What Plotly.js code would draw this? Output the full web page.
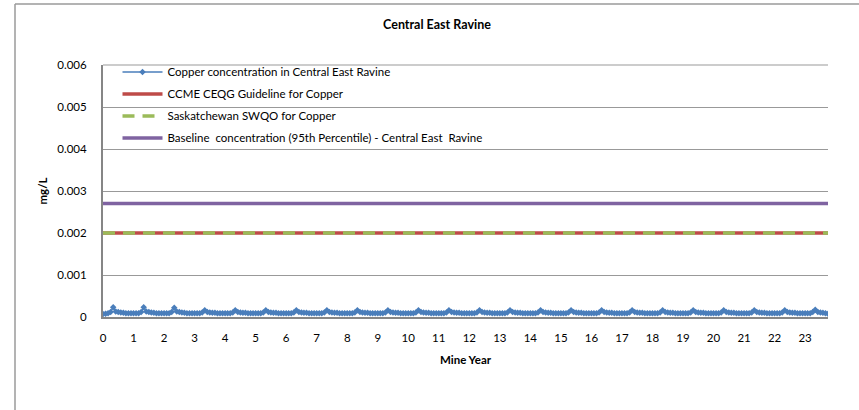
<!DOCTYPE html>
<html>
<head>
<meta charset="utf-8">
<script src="https://cdn.plot.ly/plotly-3.0.1.min.js"></script>
<style>
  html, body { margin: 0; padding: 0; background: #ffffff; }
  #chart { width: 859px; height: 410px; }
</style>
</head>
<body>
<div id="chart"></div>
<script>
// ---- data (mg/L), monthly values, one row per mine year ----
const copperConc = [
  0.00007,0.00008,0.00009,0.00012,0.00023,0.00013,0.00012,0.00011,0.00010,0.00009,0.00009,0.00009,
  0.00009,0.00009,0.00009,0.00012,0.00023,0.00013,0.00012,0.00011,0.00010,0.00009,0.00009,0.00009,
  0.00009,0.00009,0.00009,0.00012,0.00022,0.00013,0.00012,0.00011,0.00010,0.00009,0.00009,0.00009,
  0.00009,0.00009,0.00009,0.00011,0.00016,0.00012,0.00011,0.00010,0.00010,0.00009,0.00009,0.00009,
  0.00009,0.00009,0.00009,0.00011,0.00016,0.00012,0.00011,0.00010,0.00010,0.00009,0.00009,0.00009,
  0.00009,0.00009,0.00009,0.00011,0.00016,0.00012,0.00011,0.00010,0.00010,0.00009,0.00009,0.00009,
  0.00009,0.00009,0.00009,0.00011,0.00016,0.00012,0.00011,0.00010,0.00010,0.00009,0.00009,0.00009,
  0.00009,0.00009,0.00009,0.00011,0.00016,0.00012,0.00011,0.00010,0.00010,0.00009,0.00009,0.00009,
  0.00009,0.00009,0.00009,0.00011,0.00016,0.00012,0.00011,0.00010,0.00010,0.00009,0.00009,0.00009,
  0.00009,0.00009,0.00009,0.00011,0.00016,0.00012,0.00011,0.00010,0.00010,0.00009,0.00009,0.00009,
  0.00009,0.00009,0.00009,0.00011,0.00016,0.00012,0.00011,0.00010,0.00010,0.00009,0.00009,0.00009,
  0.00009,0.00009,0.00009,0.00011,0.00016,0.00012,0.00011,0.00010,0.00010,0.00009,0.00009,0.00009,
  0.00009,0.00009,0.00009,0.00011,0.00016,0.00012,0.00011,0.00010,0.00010,0.00009,0.00009,0.00009,
  0.00009,0.00009,0.00009,0.00011,0.00016,0.00012,0.00011,0.00010,0.00010,0.00009,0.00009,0.00009,
  0.00009,0.00009,0.00009,0.00011,0.00016,0.00012,0.00011,0.00010,0.00010,0.00009,0.00009,0.00009,
  0.00009,0.00009,0.00009,0.00011,0.00016,0.00012,0.00011,0.00010,0.00010,0.00009,0.00009,0.00009,
  0.00009,0.00009,0.00009,0.00011,0.00016,0.00012,0.00011,0.00010,0.00010,0.00009,0.00009,0.00009,
  0.00009,0.00009,0.00009,0.00011,0.00016,0.00012,0.00011,0.00010,0.00010,0.00009,0.00009,0.00009,
  0.00009,0.00009,0.00009,0.00011,0.00016,0.00012,0.00011,0.00010,0.00010,0.00009,0.00009,0.00009,
  0.00009,0.00009,0.00009,0.00011,0.00016,0.00012,0.00011,0.00010,0.00010,0.00009,0.00009,0.00009,
  0.00009,0.00009,0.00009,0.00011,0.00016,0.00012,0.00011,0.00010,0.00010,0.00009,0.00009,0.00009,
  0.00009,0.00009,0.00009,0.00011,0.00016,0.00012,0.00011,0.00010,0.00010,0.00009,0.00009,0.00009,
  0.00009,0.00009,0.00009,0.00011,0.00016,0.00012,0.00011,0.00010,0.00010,0.00009,0.00009,0.00009,
  0.00009,0.00009,0.00009,0.00012,0.00017,0.00012,0.00011,0.00010,0.00009,0.00008
];
const ccmeGuideline = 0.002;        // CCME CEQG Guideline for Copper
const saskSWQO = 0.002;             // Saskatchewan SWQO for Copper
const baseline95 = 0.0027;          // Baseline 95th percentile
const yearTicks = [0,1,2,3,4,5,6,7,8,9,10,11,12,13,14,15,16,17,18,19,20,21,22,23];
const seriesNames = [
  "Copper concentration in Central East Ravine",
  "CCME CEQG Guideline for Copper",
  "Saskatchewan SWQO for Copper",
  "Baseline  concentration (95th Percentile) - Central East  Ravine"
];

// time axis: monthly sample positions in mine years
const mineYear = copperConc.map((_, i) => i / 12);
const xMax = mineYear[mineYear.length - 1];

const FONT = "Lato, 'Open Sans', sans-serif";

const traces = [
  {
    x: mineYear, y: copperConc, name: seriesNames[0], type: "scatter", mode: "lines+markers",
    line: { color: "#4A7EBB", width: 1.5 },
    marker: { symbol: "diamond", size: 5, color: "#4A7EBB" },
    legendgroup: "a"
  },
  {
    x: [0, xMax], y: [ccmeGuideline, ccmeGuideline], name: seriesNames[1], type: "scatter", mode: "lines",
    line: { color: "#BE4B48", width: 3.5 }, legendgroup: "b"
  },
  {
    x: [0, xMax], y: [saskSWQO, saskSWQO], name: seriesNames[2], type: "scatter", mode: "lines",
    line: { color: "#9BBB59", width: 3.5, dash: "12px,8px" }, legendgroup: "c"
  },
  {
    x: [0, xMax], y: [baseline95, baseline95], name: seriesNames[3], type: "scatter", mode: "lines",
    line: { color: "#7F63A1", width: 3.5 }, legendgroup: "d"
  }
];

const layout = {
  width: 859, height: 410,
  margin: { l: 103, r: 31, t: 65, b: 93 },
  paper_bgcolor: "#ffffff", plot_bgcolor: "#ffffff",
  font: { family: FONT, size: 11, color: "#000000" },
  title: {
    text: "<b>Central East Ravine</b>",
    font: { family: FONT, size: 12.5, color: "#000" },
    x: 437 / 859, xanchor: "center", y: 1 - 25 / 410, yanchor: "middle"
  },
  showlegend: true,
  legend: {
    x: 0.02, y: 1.03, xanchor: "left", yanchor: "top",
    bgcolor: "rgba(0,0,0,0)", borderwidth: 0,
    font: { family: FONT, size: 11.5, color: "#000" },
    traceorder: "grouped", tracegroupgap: 3,
    itemwidth: 40
  },
  xaxis: {
    range: [0, 23.75], tickvals: yearTicks, ticktext: yearTicks.map(String),
    showgrid: false, zeroline: false,
    showline: true, linecolor: "#868686", linewidth: 2,
    ticks: "", ticklabelstandoff: 9, tickfont: { family: FONT, size: 11.5 },
    title: { text: "<b>Mine Year</b>", font: { family: FONT, size: 11.5 }, standoff: 13 }
  },
  yaxis: {
    range: [0, 0.006], dtick: 0.001, tickformat: "",
    showgrid: true, gridcolor: "#999999", gridwidth: 1,
    zeroline: false, showline: true, linecolor: "#868686", linewidth: 2,
    ticks: "", ticklabelstandoff: 12, tickfont: { family: FONT, size: 11.5 },
    title: { text: "<b>mg/L</b>", font: { family: FONT, size: 11.5 }, standoff: 7 }
  },
  shapes: [
    { type: "line", xref: "paper", yref: "paper",
      x0: (15 - 103) / 725, x1: (15 - 103) / 725, y0: 1 + 61 / 252, y1: -100 / 252,
      line: { color: "#9a9a9a", width: 1.5 } },
    { type: "line", xref: "paper", yref: "paper",
      x0: (15 - 103) / 725, x1: (870 - 103) / 725, y0: 1 + 61 / 252, y1: 1 + 61 / 252,
      line: { color: "#9a9a9a", width: 1.5 } },
    { type: "line", xref: "paper", yref: "paper",
      x0: 0, x1: 1, y0: 1, y1: 1, line: { color: "#999999", width: 1 } }
  ]
};

Plotly.newPlot("chart", traces, layout, { displayModeBar: false, staticPlot: true });
</script>
</body>
</html>
